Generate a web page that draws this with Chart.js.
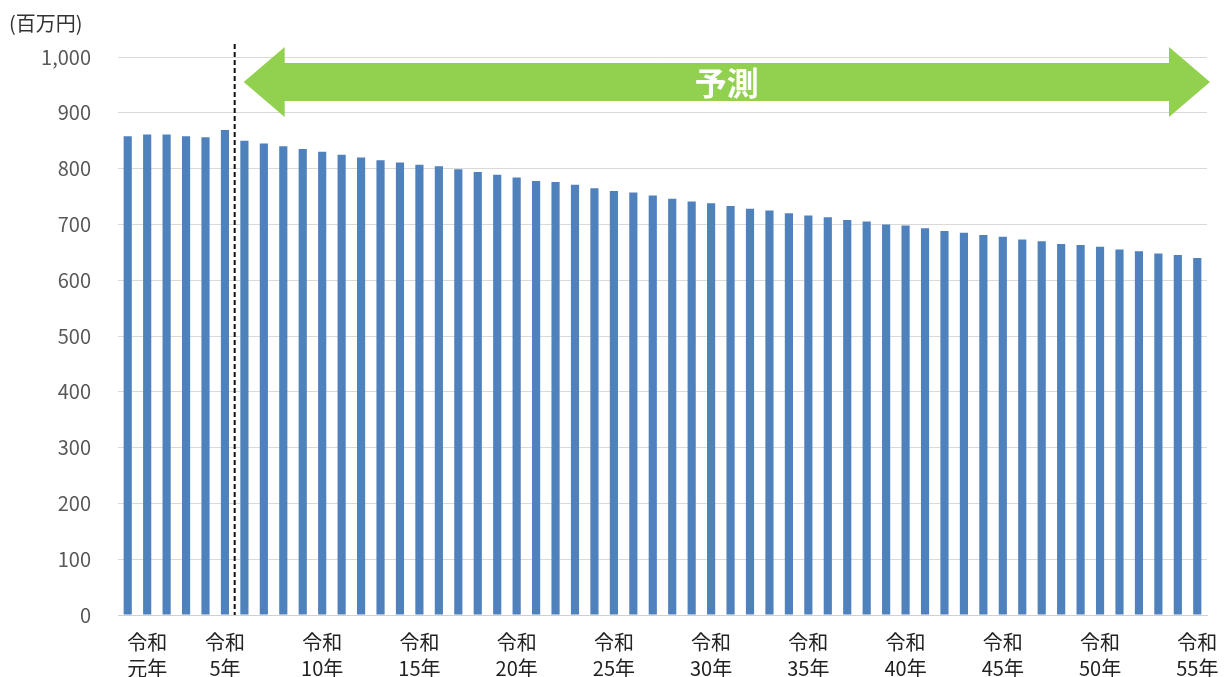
<!DOCTYPE html>
<html lang="ja">
<head>
  <meta charset="UTF-8" />
  <title>予測</title>
  <script src="https://cdn.jsdelivr.net/npm/chart.js@4.4.1/dist/chart.umd.min.js"></script>
  <style>
    html, body { margin: 0; padding: 0; background: #fff; overflow: hidden; }
    #wrap { width: 1226px; height: 700px; }
  </style>
</head>
<body>
<div id="wrap">
  <canvas id="numberChart"></canvas>
</div>
<script>
  // 平成30年(令和0) .. 令和55年
  const years = [];
  for (let i = 0; i <= 55; i++) years.push(i);

  const tickLabels = {
    1: ["令和", "元年"], 5: ["令和", "5年"], 10: ["令和", "10年"], 15: ["令和", "15年"],
    20: ["令和", "20年"], 25: ["令和", "25年"], 30: ["令和", "30年"], 35: ["令和", "35年"],
    40: ["令和", "40年"], 45: ["令和", "45年"], 50: ["令和", "50年"], 55: ["令和", "55年"],
  };

  const values = [
    858, 861, 861, 858, 856, 869, 850, 845, 840, 835,
    830, 825, 820, 815, 811, 807, 804, 799, 794, 789,
    784, 778, 776, 771, 765, 760, 757, 752, 746, 741,
    738, 733, 728, 725, 720, 716, 713, 708, 705, 700,
    698, 693, 688, 685, 681, 678, 673, 670, 665, 663,
    660, 655, 652, 648, 645, 640,
  ];

  const lastActual = 5;   // 令和5年まで実績
  const arrowLabel = "予測";
  const unitLabel = "(百万円)";

  const font = "'Noto Sans CJK JP', 'Noto Sans', sans-serif";

  const overlay = {
    id: "overlay",
    afterDatasetsDraw(chart) {
      const { ctx, chartArea, scales } = chart;
      const x = scales.x, y = scales.y;
      const divX = (x.getPixelForValue(lastActual) + x.getPixelForValue(lastActual + 1)) / 2;

      // dashed divider
      ctx.save();
      ctx.strokeStyle = "#111";
      ctx.lineWidth = 2;
      ctx.setLineDash([5, 3]);
      ctx.beginPath();
      ctx.moveTo(divX, chartArea.top - 13);
      ctx.lineTo(divX, chartArea.bottom);
      ctx.stroke();
      ctx.restore();

      // double arrow
      const cy = y.getPixelForValue(955);
      const left = divX + 9, right = chartArea.right + 3;
      const head = 41, shaft = 19, wing = 35;
      ctx.save();
      ctx.fillStyle = "#92d050";
      ctx.beginPath();
      ctx.moveTo(left, cy);
      ctx.lineTo(left + head, cy - wing);
      ctx.lineTo(left + head, cy - shaft);
      ctx.lineTo(right - head, cy - shaft);
      ctx.lineTo(right - head, cy - wing);
      ctx.lineTo(right, cy);
      ctx.lineTo(right - head, cy + wing);
      ctx.lineTo(right - head, cy + shaft);
      ctx.lineTo(left + head, cy + shaft);
      ctx.lineTo(left + head, cy + wing);
      ctx.closePath();
      ctx.fill();
      ctx.fillStyle = "#fff";
      ctx.font = "bold 32px " + font;
      ctx.textAlign = "center";
      ctx.textBaseline = "middle";
      ctx.fillText(arrowLabel, (left + right) / 2, cy + 1);
      ctx.restore();

      // unit label
      ctx.save();
      ctx.fillStyle = "#333";
      ctx.font = "20px " + font;
      ctx.textAlign = "left";
      ctx.textBaseline = "middle";
      ctx.fillText(unitLabel, 9, chartArea.top - 34);
      ctx.restore();
    },
  };

  const config = {
    type: "bar",
    data: {
      labels: years,
      datasets: [{
        data: values,
        backgroundColor: "#4f81bd",
        barPercentage: 0.42,
        categoryPercentage: 1.0,
      }],
    },
    options: {
      responsive: true,
      maintainAspectRatio: false,
      animation: false,
      layout: { padding: { top: 57, right: 19, left: 0, bottom: 0 } },
      plugins: {
        legend: { display: false },
        tooltip: { enabled: false },
      },
      scales: {
        x: {
          grid: { display: false, drawTicks: false },
          border: { color: "#d0d0d0" },
          ticks: {
            autoSkip: false,
            maxRotation: 0,
            minRotation: 0,
            padding: 14,
            color: "#222",
            font: { family: font, size: 20, lineHeight: 1.3 },
            callback: (v, i) => tickLabels[i] || "",
          },
          afterFit: (s) => { s.height = 85; s.paddingLeft = 0; s.paddingRight = 0; },
        },
        y: {
          min: 0,
          max: 1000,
          grid: { color: "#d9d9d9", drawTicks: false },
          border: { display: false },
          ticks: {
            stepSize: 100,
            padding: 27,
            color: "#595959",
            font: { family: font, size: 20 },
            callback: (v) => v.toLocaleString("en-US"),
          },
          afterFit: (s) => { s.width = 118; s.paddingTop = 0; s.paddingBottom = 0; },
        },
      },
    },
    plugins: [overlay],
  };

  new Chart(document.getElementById("numberChart"), config);
</script>
</body>
</html>
